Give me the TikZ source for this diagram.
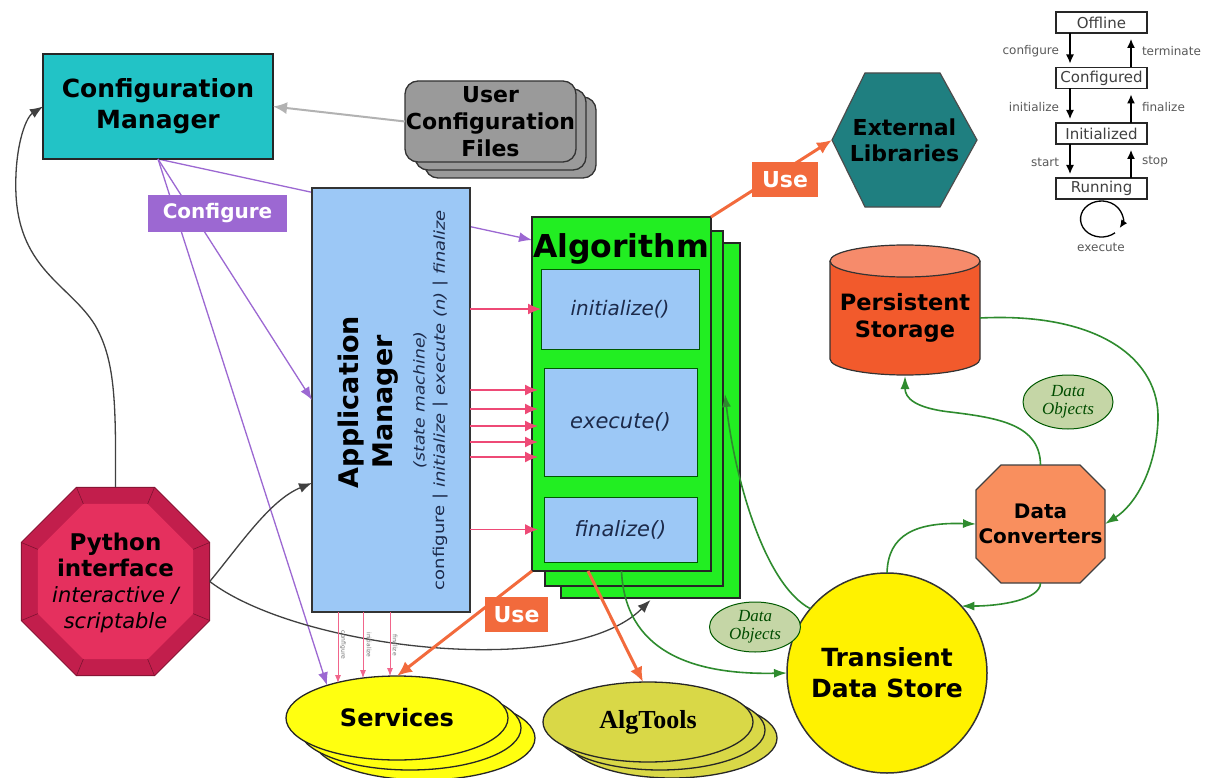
\documentclass[tikz,border=0pt]{standalone}
\usepackage{fontspec}
\setmainfont{DejaVu Sans}
\newfontfamily\timesfam{Liberation Serif}
\usetikzlibrary{arrows.meta,shapes.geometric,calc}
\pgfdeclarelayer{back}
\pgfsetlayers{back,main}

\definecolor{cmcyan}{HTML}{22C3C6}
\definecolor{cfgpurple}{HTML}{9C68D2}
\definecolor{amblue}{HTML}{9CC8F6}
\definecolor{alggreen}{HTML}{22EE22}
\definecolor{useorange}{HTML}{F26A3C}
\definecolor{callpink}{HTML}{EE4A76}
\definecolor{extteal}{HTML}{1F7F80}
\definecolor{psred}{HTML}{F25A2C}
\definecolor{dcorange}{HTML}{F98F5E}
\definecolor{pyred}{HTML}{E5305E}
\definecolor{pydark}{HTML}{C21E4C}
\definecolor{svyellow}{HTML}{FFFF10}
\definecolor{atyellow}{HTML}{D9D847}
\definecolor{doolive}{HTML}{C5D6A6}
\definecolor{flowgreen}{HTML}{2E8B2E}
\definecolor{filegray}{HTML}{9A9A9A}
\definecolor{navytext}{HTML}{1C2A4A}

\tikzset{
  filebox/.style={draw=black!80, line width=1.3pt, fill=filegray, rounded corners=13pt,
    minimum width=171pt, minimum height=81pt},
  algcard/.style={draw=black!85, line width=2pt, fill=alggreen, minimum width=179pt, minimum height=355pt},
  method/.style={draw=green!35!black, line width=1pt, fill=amblue,
    font=\itshape\fontsize{20}{24}\selectfont, text=navytext},
  smbox/.style={draw=black!85, line width=1.5pt, fill=white, minimum width=91pt, minimum height=21pt,
    font=\fontsize{15}{17}\selectfont, text=black!75},
  smlabel/.style={font=\fontsize{12}{14}\selectfont, text=black!65},
  smarr/.style={draw=black, line width=1.3pt, -{Latex[length=9pt,width=8pt]}, shorten >=4pt},
  usebox/.style={fill=useorange, text=white, font=\bfseries\fontsize{22}{26}\selectfont,
    minimum width=66pt, minimum height=35pt},
  usearr/.style={draw=useorange, line width=3pt, -{Latex[length=15pt,width=13pt]}},
  cfgline/.style={draw=cfgpurple, line width=1.3pt, -{Latex[length=13pt,width=10pt]}},
  callarr/.style={draw=callpink, line width=1.5pt, -{Latex[length=13pt,width=11pt]}},
  svcall/.style={draw=callpink!85, line width=0.8pt, -{Latex[length=8pt,width=6pt]}},
  svlabel/.style={rotate=-90, font=\fontsize{6}{7}\selectfont, text=black!55},
  pyline/.style={draw=black!75, line width=1.3pt, -{Latex[length=13pt,width=10pt]}},
  flow/.style={draw=flowgreen, line width=1.6pt, -{Latex[length=13pt,width=9pt]}},
  svell/.style={ellipse, draw=black!85, line width=1.3pt, fill=svyellow, minimum width=222pt, minimum height=84pt},
  atell/.style={ellipse, draw=black!85, line width=1.3pt, fill=atyellow, minimum width=210pt, minimum height=80pt},
  doell/.style={ellipse, draw=green!35!black, line width=1pt, fill=doolive,
    font=\timesfam\itshape\fontsize{17}{18}\selectfont, text=green!30!black, align=center},
}

\begin{document}
\begin{tikzpicture}[x=1pt, y=-1pt, every node/.style={inner sep=0pt, outer sep=0pt}]
\useasboundingbox (0,0) rectangle (1220,778);
\begin{pgfonlayer}{back}
  \fill[white] (0,0) rectangle (1220,778);
\end{pgfonlayer}

% ---------- Configuration manager and user files
\node[draw=black!85, line width=1.5pt, fill=cmcyan, minimum width=230pt, minimum height=105pt,
  align=center, font=\bfseries\fontsize{25}{31}\selectfont] (cm) at (158,106.5) {Configuration\\Manager};

\node[filebox] (ucf3) at (510.5,137.5) {};
\node[filebox] (ucf2) at (500.5,129.5) {};
\node[filebox, align=center, font=\bfseries\fontsize{22}{27}\selectfont] (ucf) at (490.5,121.5)
  {User\\Configuration\\Files};

% ---------- Application manager
\node[draw=black!80, line width=1.3pt, fill=amblue, minimum width=158pt, minimum height=424pt] (am) at (391,400) {};
\node[rotate=90, align=center, font=\bfseries\fontsize{27}{34}\selectfont] (amt) at (368,402) {Application\\Manager};
\node[rotate=90, xscale=1.15, font=\itshape\fontsize{15}{18}\selectfont, text=navytext] (ams) at (420,400) {(state machine)};
\node[rotate=90, xscale=1.2, font=\fontsize{15}{18}\selectfont, text=navytext] (amc) at (441,400)
  {configure | \textit{initialize} | \textit{execute (n)} | \textit{finalize}};

% ---------- Algorithm stack
\node[algcard] (alg3) at (650.5,420.5) {};
\node[algcard, minimum width=178pt] (alg2) at (634,408.5) {};
\node[algcard, minimum height=354pt] (alg1) at (621.5,394) {};
\node[anchor=base west, font=\bfseries\fontsize{31.5}{38}\selectfont] (algt) at (533,257) {Algorithm};
\node[method, minimum width=158pt, minimum height=80pt] (init) at (620,309) {initialize()};
\node[method, minimum width=153pt, minimum height=108pt, font=\itshape\fontsize{21}{24}\selectfont] (exec) at (620.5,422) {execute()};
\node[method, minimum width=153pt, minimum height=65pt, font=\itshape\fontsize{21}{24}\selectfont] (fin) at (620.5,529.5) {finalize()};

% ---------- External libraries
\draw[fill=extteal, draw=black!70, line width=1.2pt]
  (832,140) -- (865,73) -- (940,73) -- (977,140) -- (940,207) -- (865,207) -- cycle;
\node[minimum width=145pt, minimum height=134pt, align=center, font=\bfseries\fontsize{22}{26}\selectfont] (ext) at (904.5,140)
  {External\\Libraries};

% ---------- State machine
\node[smbox] (off) at (1101.5,22.5) {Offline};
\node[smbox] (confd) at (1101.5,78) {Configured};
\node[smbox] (inid) at (1101.5,133.5) {Initialized};
\node[smbox] (run) at (1101.5,188.5) {Running};
\draw[smarr] ($(off.south)+(-31.5,0)$) -- ($(confd.north)+(-31.5,0)$);
\draw[smarr] ($(confd.south)+(-31.5,0)$) -- ($(inid.north)+(-31.5,0)$);
\draw[smarr] ($(inid.south)+(-31.5,0)$) -- ($(run.north)+(-31.5,0)$);
\draw[smarr, shorten >=6pt] ($(confd.north)+(29.5,0)$) -- ($(off.south)+(29.5,0)$);
\draw[smarr, shorten >=6pt] ($(inid.north)+(29.5,0)$) -- ($(confd.south)+(29.5,0)$);
\draw[smarr, shorten >=6pt] ($(run.north)+(29.5,0)$) -- ($(inid.south)+(29.5,0)$);
\node[smlabel, anchor=east] (lcfg) at (1059,51) {configure};
\node[smlabel, anchor=east] (linit) at (1059,107) {initialize};
\node[smlabel, anchor=east] (lstart) at (1059,162) {start};
\node[smlabel, anchor=west] (lterm) at (1142,51) {terminate};
\node[smlabel, anchor=west] (lfin) at (1142,107) {finalize};
\node[smlabel, anchor=west] (lstop) at (1142,162) {stop};
\coordinate (loopc) at ($(run.south)+(0,20)$);
\draw[black, line width=1.3pt, -{Latex[length=8pt,width=7pt]}]
  ($(loopc)+(13.5,13.8)$) arc[start angle=-310, end angle=30, x radius=21, y radius=18];
\node[smlabel] (lexec) at (1101,247) {execute};

% ---------- Persistent storage
\fill[psred] (830,261) -- (830,359) arc[start angle=180, end angle=0, x radius=75, y radius=16] -- (980,261) -- cycle;
\draw[black!80, line width=1.2pt] (830,261) -- (830,359) arc[start angle=180, end angle=0, x radius=75, y radius=16] -- (980,261);
\draw[black!80, line width=1.2pt, fill=psred!70!white] (905,261) ellipse[x radius=75, y radius=16];
\node[minimum width=150pt, minimum height=116pt, align=center, font=\bfseries\fontsize{22.5}{27}\selectfont] (ps) at (905,318)
  {Persistent\\Storage};

% ---------- Data converters
\draw[fill=dcorange, draw=black!75, line width=1.2pt]
  (1001,465) -- (1080,465) -- (1105,490) -- (1105,558) -- (1080,583) -- (1001,583) -- (976,558) -- (976,490) -- cycle;
\node[minimum width=129pt, minimum height=118pt, align=center, font=\bfseries\fontsize{20}{25}\selectfont] (dc) at (1040.5,524)
  {Data\\Converters};

% ---------- Transient data store and data objects
\node[circle, draw=black!80, line width=1.5pt, fill=yellow, minimum size=200pt, align=center,
  font=\bfseries\fontsize{25}{31}\selectfont] (tds) at (887,673) {Transient\\Data Store};
\node[doell, minimum width=90pt, minimum height=54pt] (do1) at (1068,402) {Data\\Objects};
\node[doell, minimum width=91pt, minimum height=50pt] (do2) at (755,627) {Data\\Objects};

% ---------- Services and tools
\node[svell] (sv3) at (424,738) {};
\node[svell] (sv2) at (410,728) {};
\node[svell, font=\bfseries\fontsize{24}{28}\selectfont] (sv) at (397,718) {Services};
\node[atell] (at3) at (672,738) {};
\node[atell] (at2) at (660,730) {};
\node[atell, font=\timesfam\bfseries\fontsize{26}{30}\selectfont] (at) at (648,722) {AlgTools};

% ---------- Python interface
\node[regular polygon, regular polygon sides=8, minimum size=204pt, fill=pydark, draw=pydark!70!black, line width=1pt] (py) at (115.5,581.5) {};
\node[regular polygon, regular polygon sides=8, minimum size=168pt, fill=pyred] (pyin) at (115.5,581.5) {};
\foreach \i in {1,...,8} \draw[pydark!65!black, line width=0.6pt] (py.corner \i) -- (pyin.corner \i);
\node[align=center, font=\bfseries\fontsize{23}{26}\selectfont] (pyt) at (115.5,583)
  {Python\\interface\\{\mdseries\itshape\fontsize{21}{26}\selectfont interactive /}\\{\mdseries\itshape\fontsize{21}{26}\selectfont scriptable}};

% ---------- Configuration flows
\begin{pgfonlayer}{back}
  \draw[cfgline] (cm.south) -- ($(alg1.north west)+(0,23)$);
\end{pgfonlayer}
\draw[cfgline] (cm.south) -- (am.west);
\draw[cfgline] (cm.south) -- (sv.155);
\draw[draw=black!30, line width=2pt, -{Latex[length=14pt,width=12pt]}] (ucf.west) -- (cm.east);

% ---------- Python interface links
\draw[pyline] (py.north) .. controls (116,400) and (115,360) .. (95,325)
  .. controls (70,285) and (20,270) .. (16,195) .. controls (14,150) and (25,118) .. (cm.west);
\draw[pyline] (py.east) .. controls (240,545) and (270,500) .. ($(am.west)+(0,83)$);
\draw[pyline] (py.east) .. controls (300,650) and (570,680) .. ($(alg3.south)+(0,2)$);

% ---------- Calls from the application manager
\draw[callarr] (am.east |- init.west) -- (init.west);
\foreach \dy in {-32,-13,4,20,35}
  \draw[callarr] ($(am.east |- exec.west)+(0,\dy)$) -- ($(alg1.west |- exec.west)+(6,\dy)$);
\draw[callarr] (am.east |- fin.west) -- ($(alg1.west |- fin.west)+(6,0)$);

\draw[svcall] ($(am.south)+(-53,0)$) -- ($(sv.center)+(-59,-35)$);
\draw[svcall] ($(am.south)+(-28,0)$) -- ($(sv.center)+(-34,-40)$);
\draw[svcall] ($(am.south)+(-1,0)$) -- ($(sv.center)+(-7,-42)$);
\node[svlabel] (svl1) at (343,645) {configure};
\node[svlabel] (svl2) at (369,645) {initialize};
\node[svlabel] (svl3) at (395,645) {finalize};

% ---------- Uses
\draw[usearr] (alg1.north east) -- (ext.west);
\draw[usearr] (alg1.south west) -- (sv.north);
\draw[usearr] ($(alg1.south west)+(56,0)$) -- ($(at.north)+(-5,0)$);

% ---------- Data flows
\draw[flow] (alg1.south) .. controls (625,650) and (690,675) .. (tds.west);
\draw[flow] (tds.140) .. controls (765,585) and (735,480) .. ($(alg1.east)+(14,0)$);
\draw[flow] (tds.north) .. controls (888,535) and (915,522) .. (dc.west);
\draw[flow] (dc.south) .. controls (1040,600) and (1000,606) .. (tds.42);
\draw[flow] (dc.north) .. controls (1040,425) and (1000,418) .. (950,412)
  .. controls (915,408) and (905,398) .. (ps.south);
\draw[flow] (ps.east) .. controls (1100,312) and (1160,360) .. (1158,420)
  .. controls (1156,470) and (1135,505) .. (dc.east);

% ---------- Labels drawn over the connectors
\node[fill=cfgpurple, text=white, font=\bfseries\fontsize{20}{24}\selectfont, minimum width=139pt, minimum height=37pt]
  (cfglab) at (217.5,213.5) {Configure};
\node[usebox] (use1) at (785,179.5) {Use};
\node[usebox, minimum width=63pt] (use2) at (516.5,614.5) {Use};
\end{tikzpicture}
\end{document}
